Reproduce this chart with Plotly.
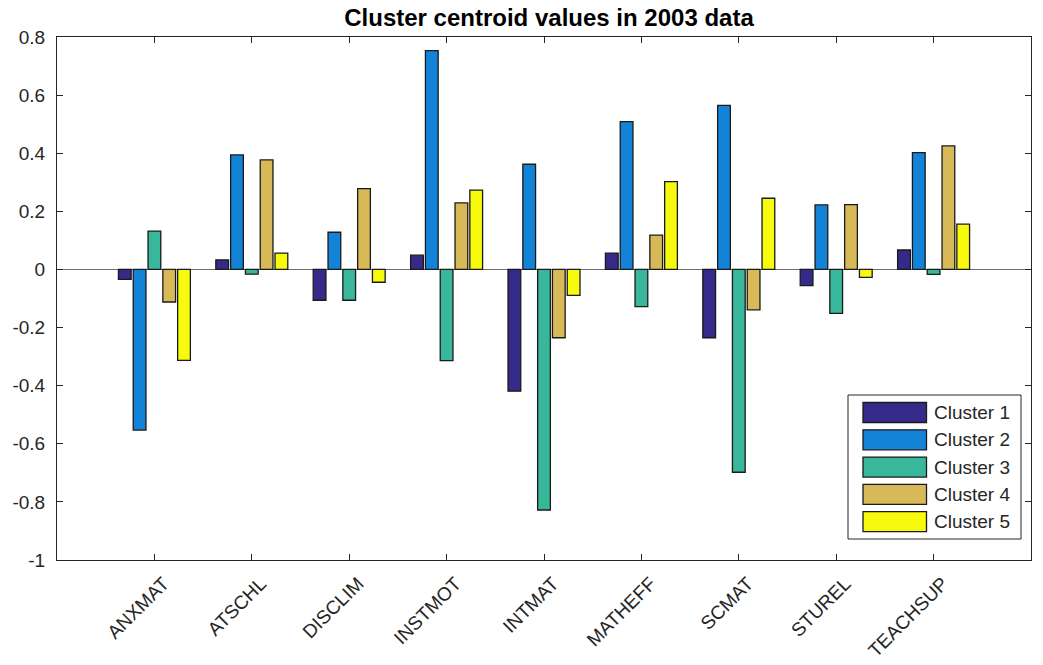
import plotly.graph_objects as go

# Cluster centroid values per PISA scale index (2003 data)
variables = ["ANXMAT", "ATSCHL", "DISCLIM", "INSTMOT", "INTMAT",
             "MATHEFF", "SCMAT", "STUREL", "TEACHSUP"]
cluster_1 = [-0.034, 0.033, -0.106, 0.049, -0.419, 0.056, -0.235, -0.056, 0.067]
cluster_2 = [-0.553, 0.394, 0.128, 0.753, 0.362, 0.509, 0.565, 0.222, 0.402]
cluster_3 = [0.132, -0.016, -0.106, -0.314, -0.828, -0.128, -0.698, -0.151, -0.017]
cluster_4 = [-0.112, 0.377, 0.278, 0.229, -0.235, 0.118, -0.139, 0.223, 0.425]
cluster_5 = [-0.313, 0.056, -0.044, 0.273, -0.089, 0.302, 0.245, -0.027, 0.156]
series_names = ["Cluster 1", "Cluster 2", "Cluster 3", "Cluster 4", "Cluster 5"]
y_ticks = [-1, -0.8, -0.6, -0.4, -0.2, 0, 0.2, 0.4, 0.6, 0.8]

series = [cluster_1, cluster_2, cluster_3, cluster_4, cluster_5]
colors = ["#352a87", "#1283d6", "#38b79b", "#d8b957", "#f8fa0d"]
ink = "#262626"
font_family = "Liberation Sans, Arial, Helvetica, sans-serif"
label_size = 19

positions = list(range(1, len(variables) + 1))

fig = go.Figure()
for name, vals, col in zip(series_names, series, colors):
    fig.add_trace(go.Bar(
        x=positions, y=vals, name=name,
        marker=dict(color=col, line=dict(color="#1a1a1a", width=1.3)),
        showlegend=False,
    ))

# Plot area geometry (pixels) used to place the boxed legend
W, H = 1043, 665
L, R, T, B = 57, 12, 37, 105
pw, ph = W - L - R, H - T - B


def px(x):
    return (x - L) / pw


def py(y):
    return (H - B - y) / ph


shapes = []
annotations = []
# legend frame
shapes.append(dict(type="rect", xref="paper", yref="paper",
                   x0=px(848), x1=px(1021), y0=py(539), y1=py(395),
                   line=dict(color=ink, width=1), fillcolor="white", layer="above"))
for i, (name, col) in enumerate(zip(series_names, colors)):
    top = 402.5 + i * 27.3
    shapes.append(dict(type="rect", xref="paper", yref="paper",
                       x0=px(863), x1=px(926.5), y0=py(top + 20), y1=py(top),
                       line=dict(color="#1a1a1a", width=1.3), fillcolor=col,
                       layer="above"))
    annotations.append(dict(xref="paper", yref="paper", x=px(932), y=py(top + 10),
                            text=name, showarrow=False, xanchor="left",
                            yanchor="middle",
                            font=dict(size=label_size, color=ink, family=font_family)))

fig.update_layout(
    width=W, height=H,
    margin=dict(l=L, r=R, t=T, b=B),
    paper_bgcolor="white", plot_bgcolor="white",
    barmode="group", bargap=0.24, bargroupgap=0.14,
    font=dict(family=font_family, size=label_size, color=ink),
    title=dict(text="<b>Cluster centroid values in 2003 data</b>",
               x=549 / W, xref="container", xanchor="center",
               y=1 - 18 / H, yanchor="middle",
               font=dict(size=24, color="#000000", family=font_family)),
    shapes=shapes,
    annotations=annotations,
)

fig.update_xaxes(
    range=[0, 10], tickmode="array", tickvals=positions, ticktext=variables,
    tickangle=-45, ticks="inside", ticklen=6, tickcolor=ink,
    showline=True, linecolor=ink, linewidth=1, mirror="allticks",
    showgrid=False, zeroline=False, ticklabelstandoff=4, ticklabelshift=9,
    automargin=False,
    tickfont=dict(size=label_size, color=ink),
)
fig.update_yaxes(
    range=[-1, 0.8], tickmode="array", tickvals=y_ticks,
    ticktext=[("%g" % v) for v in y_ticks],
    ticks="inside", ticklen=6, tickcolor=ink,
    showline=True, linecolor=ink, linewidth=1, mirror="allticks",
    showgrid=False, zeroline=True, zerolinecolor="#6e6e6e", zerolinewidth=1,
    ticklabelstandoff=7, automargin=False,
    tickfont=dict(size=label_size, color=ink),
)

fig.write_html("out.html")
